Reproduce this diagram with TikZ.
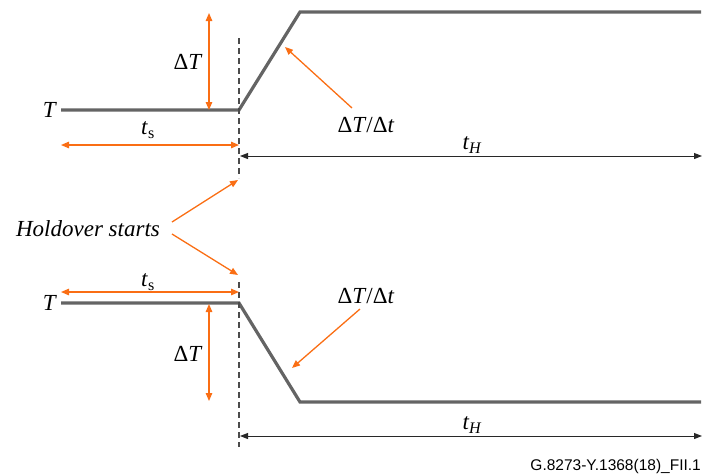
\documentclass[tikz,border=0pt]{standalone}
\usepackage{fontspec}
\setmainfont{Liberation Serif}
\newfontfamily\footfont{Liberation Sans}
\usetikzlibrary{arrows.meta}
\definecolor{orng}{RGB}{250,110,20}
\definecolor{curvegray}{RGB}{100,100,100}
\definecolor{dashgray}{RGB}{75,75,75}
\definecolor{dimgray}{RGB}{40,40,40}
\begin{document}
\begin{tikzpicture}[x=1pt,y=-1pt,
  lbl/.style={inner sep=0pt, font=\fontsize{23}{26}\selectfont},
  curveline/.style={draw=curvegray, line width=3.2pt, line join=miter},
  dashline/.style={draw=dashgray, line width=1.8pt, dash pattern=on 6pt off 4pt},
  oboth/.style={draw=orng, line width=1.3pt, {Triangle[length=8pt,width=6.5pt]}-{Triangle[length=8pt,width=6.5pt]}},
  oone/.style={draw=orng, line width=1.3pt, -{Triangle[length=8pt,width=6.5pt]}},
  kboth/.style={draw=dimgray, line width=1pt, {Triangle[length=8pt,width=6pt]}-{Triangle[length=8pt,width=6pt]}}
]
\useasboundingbox (0,0) rectangle (702,475);

% ---------- top diagram ----------
\coordinate (a0) at (61,110);
\coordinate (a1) at (239,110);
\coordinate (a2) at (300,12);
\coordinate (a3) at (701,12);
\draw[curveline] (a0) -- (a1) -- (a2) -- (a3);

\coordinate (d1t) at (239,38);
\coordinate (d1b) at (239,178);
\draw[dashline] (d1t) -- (d1b);

\coordinate (dTa) at (209,13);
\coordinate (dTb) at (209,110);
\draw[oboth] (dTa) -- (dTb);
\node[lbl] (dT1) at (188,62) {Δ\textit{T}};

\node[lbl] (T1) at (50,110) {\textit{T}};

\coordinate (tsa) at (61,145);
\coordinate (tsb) at (239,145);
\draw[oboth] (tsa) -- (tsb);
\node[lbl] (ts1) at (148,130) {\textit{t}\textsubscript{s}};

\coordinate (tha) at (240,156);
\coordinate (thb) at (702,156);
\draw[kboth] (tha) -- (thb);
\node[lbl] (th1) at (472,145) {\textit{t\textsubscript{H}}};

\node[lbl] (sl1) at (366,125) {Δ\textit{T}/Δ\textit{t}};
\coordinate (sl1s) at (352,108);
\coordinate (sl1e) at (285,47);
\draw[oone] (sl1s) -- (sl1e);

% ---------- holdover ----------
\node[lbl] (hs) at (88,229) {\textit{Holdover starts}};
\coordinate (hs1) at (172,222);
\coordinate (hs2) at (172,234);
\coordinate (hsE1) at (238,180);
\coordinate (hsE2) at (238,275);
\draw[oone] (hs1) -- (hsE1);
\draw[oone] (hs2) -- (hsE2);

% ---------- bottom diagram ----------
\coordinate (b0) at (61,303);
\coordinate (b1) at (239,303);
\coordinate (b2) at (300,402);
\coordinate (b3) at (701,402);
\draw[curveline] (b0) -- (b1) -- (b2) -- (b3);

\coordinate (d2t) at (239,282);
\coordinate (d2b) at (239,447);
\draw[dashline] (d2t) -- (d2b);

\coordinate (ts2a) at (61,292);
\coordinate (ts2b) at (239,292);
\draw[oboth] (ts2a) -- (ts2b);
\node[lbl] (ts2) at (148,282) {\textit{t}\textsubscript{s}};

\node[lbl] (T2) at (50,303) {\textit{T}};

\coordinate (dT2a) at (209,304);
\coordinate (dT2b) at (209,401);
\draw[oboth] (dT2a) -- (dT2b);
\node[lbl] (dT2) at (188,354) {Δ\textit{T}};

\node[lbl] (sl2) at (366,296) {Δ\textit{T}/Δ\textit{t}};
\coordinate (sl2s) at (360,309);
\coordinate (sl2e) at (292,368);
\draw[oone] (sl2s) -- (sl2e);

\coordinate (th2a) at (240,436);
\coordinate (th2b) at (702,436);
\draw[kboth] (th2a) -- (th2b);
\node[lbl] (th2) at (472,425) {\textit{t\textsubscript{H}}};

\node[inner sep=0pt, anchor=east, font=\footfont\fontsize{15.5}{17}\selectfont] (foot) at (701,466) {G.8273-Y.1368(18)\_FII.1};
\end{tikzpicture}
\end{document}
